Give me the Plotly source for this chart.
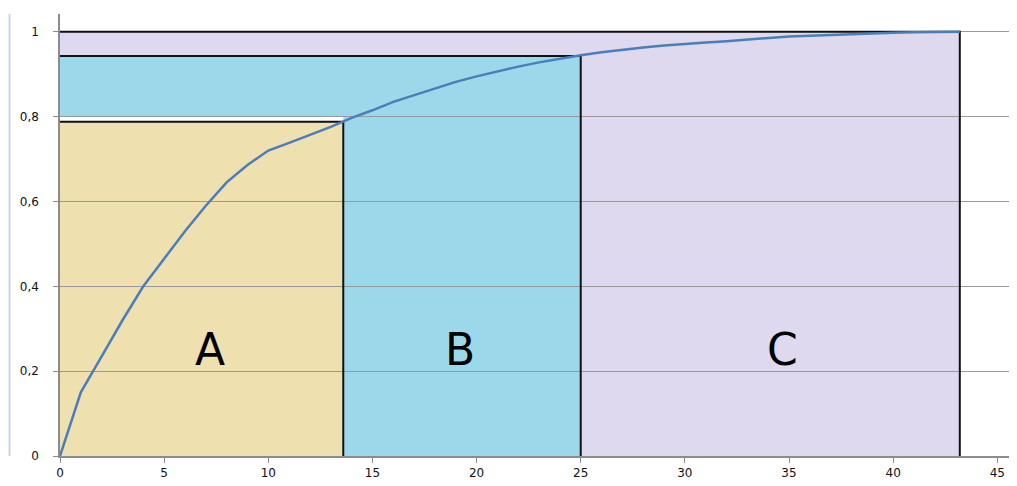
import plotly.graph_objects as go

# Cumulative share curve
x_vals = [0, 1, 2, 3, 4, 5, 6, 7, 8, 9, 10, 11, 12, 13, 14, 15, 16, 17, 18, 19, 20,
          21, 22, 23, 24, 25, 26, 27, 28, 29, 30, 31, 32, 33, 34, 35, 36, 37, 38, 39,
          40, 41, 42, 43.2]
y_vals = [0, 0.15, 0.235, 0.32, 0.40, 0.465, 0.53, 0.59, 0.645, 0.686, 0.72, 0.738,
          0.757, 0.776, 0.797, 0.815, 0.835, 0.851, 0.866, 0.882, 0.895, 0.907, 0.918,
          0.928, 0.937, 0.945, 0.952, 0.958, 0.963, 0.968, 0.972, 0.975, 0.978, 0.982,
          0.986, 0.989, 0.991, 0.993, 0.995, 0.997, 0.998, 0.999, 1.0, 1.0]

# ABC classes
class_names = ["A", "B", "C"]
class_x_end = [13.6, 25, 43.2]
class_y_end = [0.788, 0.943, 1.0]
class_colors = ["#EEE1AF", "#9BD8EA", "#DED9EF"]
label_x = [7.2, 19.2, 34.7]
label_y = [0.25, 0.25, 0.25]
b_band_floor = 0.8  # blue band above class A starts at this level

y_ticks = [0, 0.2, 0.4, 0.6, 0.8, 1.0]
x_ticks = [0, 5, 10, 15, 20, 25, 30, 35, 40, 45]

xa, xb, xc = class_x_end
ya, yb, yc = class_y_end

shapes = []
# C region (everything outside B up to the C bounds)
shapes.append(dict(type="path", layer="below", line=dict(width=0), fillcolor=class_colors[2],
                   path=f"M {xb},0 L {xc},0 L {xc},{yc} L 0,{yc} L 0,{yb} L {xb},{yb} Z"))
# B region
shapes.append(dict(type="path", layer="below", line=dict(width=0), fillcolor=class_colors[1],
                   path=f"M {xa},0 L {xb},0 L {xb},{yb} L 0,{yb} L 0,{b_band_floor} L {xa},{b_band_floor} Z"))
# A region
shapes.append(dict(type="rect", layer="below", line=dict(width=0), fillcolor=class_colors[0],
                   x0=0, x1=xa, y0=0, y1=ya))
# Black outlines
for xe, ye in zip(class_x_end, class_y_end):
    shapes.append(dict(type="path", layer="between", line=dict(color="#111111", width=2),
                       path=f"M 0,{ye} L {xe},{ye} L {xe},0"))
# Outer chart border line at left
shapes.append(dict(type="line", xref="paper", yref="paper", x0=-0.0529, x1=-0.0529,
                   y0=0, y1=1.0, line=dict(color="#C9D6EA", width=2)))

fig = go.Figure()
fig.add_trace(go.Scatter(x=x_vals, y=y_vals, mode="lines",
                         line=dict(color="#4A7EBB", width=2.5), showlegend=False,
                         hoverinfo="skip"))

annotations = [dict(x=lx, y=ly, text=name, showarrow=False,
                    font=dict(family="DejaVu Sans", size=44, color="#000000"))
               for name, lx, ly in zip(class_names, label_x, label_y)]

fig.update_layout(
    width=1009, height=478,
    margin=dict(l=52, r=2, t=6, b=30),
    paper_bgcolor="white", plot_bgcolor="white",
    separators=", ",
    shapes=shapes,
    annotations=annotations,
    showlegend=False,
    xaxis=dict(range=[0, 45.85], tickvals=x_ticks, showgrid=False, zeroline=False,
               showline=True, linecolor="#8C8C8C", linewidth=1.5,
               ticks="outside", ticklen=5, tickcolor="#8C8C8C", automargin=False,
               tickfont=dict(family="DejaVu Sans", size=12, color="#111111")),
    yaxis=dict(range=[0, 1.042], tickvals=y_ticks, showgrid=True, gridcolor="#999999",
               gridwidth=1, zeroline=False, showline=True, linecolor="#8C8C8C",
               linewidth=1.5, ticks="outside", ticklen=5, tickcolor="#8C8C8C",
               ticklabelstandoff=12, automargin=False,
               tickfont=dict(family="DejaVu Sans", size=12, color="#111111")),
)

fig.write_html("out.html")
